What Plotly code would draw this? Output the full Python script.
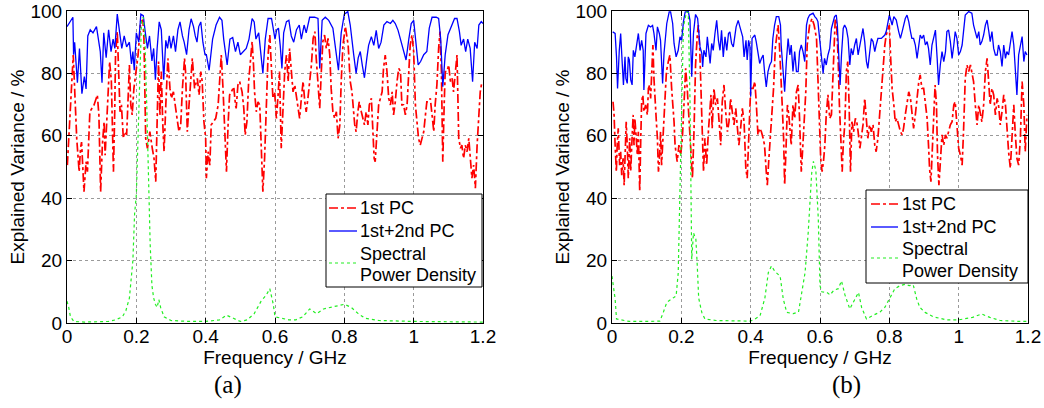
import plotly.graph_objects as go

# ---------------- Panel (a) ----------------
f_a_pc1 = [0.001,0.018,0.028,0.035,0.039,0.042,0.049,0.055,0.059,0.066,0.078,0.0875,0.092,0.097,0.102,0.107,0.110,0.113,0.118,0.123,0.128,0.134,0.1375,0.140,0.145,0.148,0.153,0.157,0.160,0.1625,0.166,0.172,0.177,0.180,0.184,0.188,0.193,0.198,0.205,0.2125,0.219,0.222,0.227,0.232,0.239,0.246,0.251,0.256,0.2606,0.264,0.268,0.272,0.276,0.280,0.285,0.291,0.297,0.301,0.307,0.311,0.316,0.323,0.328,0.333,0.339,0.342,0.347,0.352,0.3615,0.368,0.376,0.381,0.386,0.390,0.395,0.400,
           0.402,0.407,0.412,0.416,0.421,0.429,0.436,0.440,0.445,0.450,0.455,0.460,0.465,0.469,0.474,0.481,0.486,0.488,0.493,0.498,0.505,0.510,0.514,0.519,0.524,0.529,0.534,0.538,0.541,0.546,0.551,0.556,0.561,0.565,0.570,0.575,0.580,0.585,0.590,0.594,0.599,0.604,0.609,0.613,0.618,0.623,0.628,0.633,0.638,0.642,0.647,0.652,0.657,0.662,0.666,0.671,0.676,0.681,0.686,0.690,0.695,0.700,0.705,0.710,0.715,0.719,0.724,0.729,0.734,0.738,0.743,0.748,0.753,0.758,0.762,0.767,0.772,0.777,0.782,0.787,0.791,0.796,
           0.803,0.811,0.817,0.822,0.830,0.834,0.839,0.843,0.849,0.853,0.858,0.863,0.868,0.872,0.878,0.882,0.886,0.889,0.894,0.899,0.904,0.909,0.913,0.918,0.923,0.928,0.933,0.938,0.942,0.947,0.952,0.957,0.962,0.966,0.971,0.976,0.981,0.986,0.990,0.995,1.000,1.005,1.010,1.014,1.019,1.024,1.029,1.034,1.038,1.043,1.048,1.053,1.058,1.062,1.067,1.072,1.076,1.080,1.084,1.088,1.091,1.096,1.101,1.106,1.111,1.115,1.120,1.125,1.130,1.135,1.139,1.144,1.149,1.154,1.159,1.163,1.168,1.173,1.178,1.183,1.188,1.192,1.197]
pc1_a = [50.6,85.9,59.2,48.5,56,58,42.1,51.7,48.5,67.7,69.9,73.1,66.7,42.1,57,64.5,53.8,61.3,75.2,83.8,77.4,48.5,66.7,85.9,93.4,80.6,67.7,69.9,64.5,59.2,61.3,60.3,74.1,82.7,69.9,66.7,75.2,80.6,85.9,96.6,97.1,91.2,59.2,56,61.3,56,52.8,45.3,69.9,83.8,66.7,80.6,64.5,54.9,69.9,84.8,75.2,72,74.1,69.9,66.7,61.3,63.5,75.2,84.8,80.6,61.3,69.9,84.8,75.2,78.4,73.1,80.6,77.4,64.5,59.2,
         46.4,54.9,50.6,63.5,64.5,65.6,69.9,78.4,85.9,75.2,61.3,48.5,64.5,73.1,74.1,75.7,69.9,68.8,76.3,77.4,74.1,68.8,60.3,64.5,77.4,84.8,90.2,82.7,74.1,67.7,70.9,69.9,57,42.1,52.8,66.7,85.9,92.3,80.6,72,74.1,65.6,73.1,80.6,56,69.9,80.6,85.9,77.4,88,80.6,74.1,76.3,72,69.9,65.6,72,77.4,70.9,67.7,72,77.4,82.7,91.2,93.4,84.8,77.4,68.8,81.6,90.2,92.3,88,91.2,85.9,75.2,67.7,65.6,67.7,59.2,63.5,77.4,89.1,
         95,89.1,77.4,74.1,63.5,61.3,67.7,70.9,67.7,65.6,63.5,67.7,63.5,69.9,72,62.4,52.8,51.7,59.2,69.9,72,74.1,81.6,85.9,80.6,72,69.9,74.1,66.7,70.9,77.4,81.6,80.6,69.9,69.9,66.7,69.9,80.6,89.1,92.3,87,69.9,63.5,59.2,57,59.2,61.3,66.7,70.9,70.9,72,66.7,61.3,69.9,76.3,88,93.4,80.6,51.7,69.9,80.6,80.6,82.7,77.4,78.4,74.1,81.6,85.9,59.2,56,57,52.8,57,54.9,59.2,52.8,46.4,50.6,43.2,57,66.7,74.1,77.4]

f_a_pc12 = [0,0.01,0.017,0.019,0.022,0.03,0.036,0.043,0.05,0.055,0.06,0.067,0.075,0.085,0.092,0.096,0.101,0.106,0.113,0.12,0.127,0.133,0.138,0.145,0.152,0.158,0.165,0.172,0.18,0.186,0.19,0.194,0.2,0.207,0.213,0.22,0.226,0.232,0.238,0.245,0.25,0.255,0.26,0.266,0.272,0.276,0.279,0.285,0.29,0.295,0.3,0.307,0.313,0.32,0.326,0.333,0.338,0.345,0.352,0.358,0.365,0.37,0.375,0.38,0.386,0.392,0.398,0.402,0.41,0.42,0.43,0.44,0.447,0.452,0.462,0.47,0.478,0.486,0.493,0.5,0.508,0.517,0.525,0.534,0.54,0.545,0.553,0.56,0.565,0.572,0.58,0.59,0.6,0.605,0.61,0.615,0.62,0.625,0.633,0.64,0.647,0.654,0.662,0.67,0.676,0.684,0.69,0.7,0.714,0.724,0.729,0.736,0.745,0.755,0.767,0.777,0.783,0.791,0.8,0.81,0.817,0.827,0.834,0.84,0.846,0.852,0.858,0.865,0.87,0.878,0.885,0.892,0.899,0.906,0.914,0.923,0.933,0.94,0.947,0.955,0.962,0.971,0.978,0.986,0.993,1.0,1.006,1.013,1.02,1.029,1.038,1.045,1.053,1.065,1.072,1.078,1.084,1.091,1.099,1.109,1.118,1.125,1.132,1.137,1.144,1.15,1.156,1.163,1.17,1.176,1.183,1.188,1.195,1.2]
pc12_a = [95,97,98,86,90,77,88,73.5,79,75,92,94,93,95,90,87,77,93,85,94,87,91,88,99,93,88,92,88.5,90,83,87,81,93,90,99,98.5,93,88,92,84,88,78,88,96.5,94,86,78,90.6,88,92,88,92,87,94,96.5,92,90,86,94,97.5,95,92,90,95,96.5,90,86,86,81,91,95.5,98,97,91,82.7,91,91.5,87,90,86,87,88,91,97.6,96.5,91,93,86,80,91,97.6,97.6,91,94,94.5,89,81.6,93,96.6,97,92,90,94,95.5,91,95.5,93,98,98,97.6,81.6,97,98,97,94.5,86,81,93,99,99.8,95.5,86,80,85,87,82.5,78.6,85,89,91.8,89,93.8,88,90,95.5,96.6,96,97,96,93.8,91,88,84.3,91,96,97,91,82.7,83.8,86,87,94.5,98,98,97.6,91,75.7,86,92.4,95.5,97.6,97.6,93.4,89,91,87,91,88,77.3,90,88,95.5,96.6,96]

f_a_psd = [0,0.005,0.01,0.02,0.05,0.1,0.12,0.14,0.16,0.17,0.18,0.19,0.195,0.2,0.205,0.21,0.215,0.22,0.225,0.23,0.235,0.24,0.245,0.25,0.255,0.26,0.265,0.27,0.28,0.3,0.35,0.4,0.44,0.46,0.48,0.5,0.52,0.54,0.56,0.575,0.585,0.595,0.6,0.62,0.64,0.66,0.68,0.7,0.72,0.74,0.76,0.78,0.8,0.82,0.84,0.86,0.9,1.0,1.2]
psd_a = [7,5,2,0.5,0.3,0.3,0.5,1,2,4,8,20,35,41,60,85,97,98,90,70,45,25,12,8,6,5,7.5,5,2,0.8,0.5,0.5,1,2.5,1.5,0.5,1,3,7,9,11,6,2,1.5,1,1,2,4.5,3,4.5,5,5.5,6,5,3,1.5,0.8,0.5,0.3]

# ---------------- Panel (b) ----------------
f_b_pc1 = [0.003,0.006,0.009,0.0125,0.015,0.018,0.022,0.025,0.028,0.032,0.035,0.0375,0.041,0.044,0.047,0.051,0.054,0.057,0.061,0.0635,0.066,0.070,0.073,0.076,0.080,0.083,0.0855,0.089,0.092,0.097,0.102,0.105,0.109,0.1115,0.114,0.118,0.121,0.124,0.128,0.131,0.134,0.1375,0.140,0.143,0.147,0.152,0.157,0.1625,0.167,0.172,0.176,0.179,0.182,0.188,0.193,0.198,0.203,0.208,0.2125,0.217,0.222,0.227,0.232,0.2365,0.241,0.246,0.249,0.253,0.257,0.2605,0.264,0.268,0.273,0.278,0.282,0.2855,0.289,0.294,0.299,0.304,0.309,0.3135,0.318,0.323,0.328,0.333,0.3375,0.342,0.347,0.352,0.357,0.3615,0.366,0.371,0.376,0.381,0.386,0.390,0.395,0.400,
           0.407,0.412,0.416,0.421,0.426,0.431,0.436,0.440,0.445,0.448,0.452,0.457,0.462,0.466,0.471,0.476,0.479,0.483,0.486,0.488,0.491,0.495,0.498,0.502,0.506,0.510,0.513,0.517,0.522,0.527,0.532,0.537,0.541,0.546,0.549,0.554,0.559,0.563,0.570,0.577,0.583,0.590,0.594,0.598,0.602,0.606,0.610,0.614,0.618,0.623,0.628,0.633,0.636,0.640,0.644,0.648,0.652,0.656,0.660,0.664,0.667,0.672,0.676,0.680,0.684,0.688,0.692,0.697,0.702,0.706,0.710,0.715,0.719,0.724,0.729,0.734,0.738,0.743,0.748,0.753,0.758,0.762,0.767,0.772,0.777,0.782,0.787,0.791,0.796,0.800,
           0.803,0.808,0.813,0.817,0.822,0.827,0.832,0.837,0.841,0.846,0.851,0.856,0.861,0.865,0.870,0.875,0.880,0.885,0.889,0.894,0.899,0.904,0.909,0.913,0.916,0.920,0.924,0.928,0.932,0.936,0.939,0.943,0.947,0.952,0.957,0.962,0.966,0.971,0.976,0.981,0.986,0.990,0.995,1.000,1.005,1.010,1.014,1.019,1.024,1.029,1.034,1.038,1.043,1.048,1.053,1.058,1.062,1.067,1.072,1.077,1.082,1.087,1.091,1.096,1.101,1.106,1.111,1.115,1.120,1.125,1.130,1.135,1.139,1.144,1.149,1.154,1.159,1.163,1.168,1.173,1.178,1.183,1.188,1.192,1.197]
pc1_b = [70.9,66.7,57,48.5,57,62.4,50.6,54.9,47.4,52.8,44.2,57,64.5,57,46.4,59.2,48.5,57,66.7,57,65.6,59.2,53.8,61.3,42.1,59.2,70.9,73.1,67.7,69.9,66.7,75.2,76.3,72,80.6,89.1,78.4,69.9,64.5,59.2,48.5,53.8,61.3,50.6,59.2,69.9,80.6,83.8,85.9,75.2,69.9,64.5,57,51.7,57,53.8,59.2,72,81.6,75.2,64.5,53.8,46.4,61.3,82.7,92.3,95.5,88,75.2,59.2,48.5,59.2,50.6,61.3,69.9,73.1,62.4,75.2,69.9,72,64.5,57,70.9,76.3,67.7,61.3,64.5,72,67.7,63.5,68.8,62.4,57,62.4,68.8,64.5,49.6,46.4,63.5,75.2,
         75.2,77.4,70.9,60.3,62.4,61.3,59.2,57,48.5,44.2,51.7,59.2,66.7,75.2,88,93.4,95.5,89.1,79.5,76.3,69.9,59.2,44.2,56,69.9,66.7,61.3,57,69.9,65.6,74.1,76.3,65.6,48.5,53.8,62.4,74.1,89.1,95.5,97.6,95.5,91.2,80.6,65.6,52.8,48.5,51.7,57,66.7,73.1,65.6,66.7,75.2,85.9,97.6,95.5,85.9,69.9,56,48.5,57,64.5,80.6,83.8,69.9,48.5,64.5,61.3,65.6,64.5,61.3,56,59.2,63.5,72,63.5,59.2,63.5,61.3,63.5,57,54.9,59.2,66.7,75.2,82.7,89.1,92.3,94.4,95.5,
         87,75.2,69.9,64.5,65.6,63.5,61.3,60.3,62.4,66.7,70.9,74.1,72,67.7,62.4,66.7,73.1,77.4,79.5,75.2,75.2,70.9,65.6,57,49.6,45.3,57,69.9,76.3,69.9,53.8,44.2,52.8,60.3,57,60.3,59.2,61.3,63.5,64.5,69.9,70.9,63.5,56,53.8,50.6,61.3,78.4,82.7,80.6,82.7,80.6,77.4,69.9,63.5,69.9,67.7,64.5,69.9,80.6,84.8,75.2,69.9,75.2,73.1,66.7,72,69.9,63.5,67.7,73.1,69.9,61.3,54.9,49.6,59.2,69.9,61.3,52.8,50.6,59.2,77.4,69.9,54.9,66.7]

f_b_pc12 = [0.002,0.009,0.013,0.016,0.021,0.025,0.029,0.033,0.0375,0.040,0.044,0.047,0.050,0.054,0.058,0.0615,0.066,0.071,0.076,0.081,0.0855,0.090,0.092,0.098,0.105,0.1115,0.117,0.121,0.127,0.131,0.1365,0.140,0.146,0.150,0.158,0.165,0.169,0.175,0.179,0.185,0.191,0.196,0.201,0.206,0.211,0.220,0.225,0.230,0.235,0.241,0.247,0.254,0.259,0.2615,0.265,0.271,0.275,0.279,0.283,0.2875,0.292,0.297,0.302,0.307,0.3115,0.316,0.321,0.326,0.331,0.336,0.340,0.345,0.350,0.358,0.364,0.369,0.377,0.381,0.3865,0.390,0.394,0.398,0.400,
            0.404,0.412,0.416,0.421,0.426,0.431,0.436,0.440,0.445,0.450,0.455,0.460,0.464,0.469,0.474,0.481,0.486,0.488,0.493,0.498,0.503,0.508,0.513,0.517,0.522,0.527,0.532,0.537,0.541,0.546,0.551,0.556,0.561,0.565,0.570,0.580,0.585,0.590,0.594,0.599,0.604,0.609,0.613,0.618,0.623,0.628,0.633,0.638,0.642,0.647,0.650,0.654,0.658,0.662,0.667,0.671,0.676,0.681,0.686,0.690,0.695,0.700,0.705,0.710,0.715,0.719,0.724,0.729,0.734,0.738,0.743,0.748,0.753,0.758,0.762,0.767,0.777,0.787,0.791,0.796,0.800,
            0.803,0.808,0.813,0.820,0.827,0.832,0.837,0.841,0.846,0.851,0.856,0.861,0.865,0.870,0.875,0.880,0.885,0.889,0.894,0.899,0.904,0.909,0.913,0.918,0.923,0.928,0.933,0.938,0.942,0.947,0.952,0.957,0.962,0.966,0.971,0.976,0.981,0.986,0.990,0.995,1.000,1.005,1.010,1.014,1.019,1.029,1.038,1.043,1.048,1.053,1.058,1.062,1.067,1.072,1.077,1.082,1.087,1.091,1.096,1.101,1.106,1.111,1.115,1.120,1.125,1.130,1.135,1.139,1.144,1.149,1.154,1.159,1.163,1.168,1.173,1.178,1.183,1.188,1.192,1.197]
pc12_b = [93.3,92.8,85.3,75.2,87.4,92.8,84.3,76.3,85.3,78.4,76.8,85.3,84.3,77.9,76.3,87.4,85.3,88.5,92.8,87.4,90.6,87.4,74.7,92.8,95.4,94.9,95.4,92.8,87.4,94.9,92.8,90.6,76.8,86.4,96,99.7,99.7,96,89.6,85.3,87.4,91.7,90.6,96.5,99.7,99.9,97,78.9,92.8,98.9,97.6,88.5,86.4,82.1,87.4,85.3,91.7,87.4,83.2,89.6,87.4,92.8,97,90.6,87.4,93.8,85.3,91.7,87.4,92.8,93.3,89.6,88.5,94.9,97,94.9,91.7,85.3,90.6,84.3,90.6,88.5,72.6,
          91.2,92.3,90.2,85.9,83.2,84.8,85.9,80.6,75.7,80.6,82.7,83.8,91.2,95.5,98.2,98.2,95.5,89.1,80.6,74.1,83.8,91.2,85.9,89.1,80.6,87,80.6,80.6,87,89.1,87,83.8,95.5,97.6,98.7,99.3,98.2,97.6,96.6,91.2,84.8,80,84.8,82.7,85.9,88,94.4,96.6,98.2,98.7,95.5,85.9,76.3,85.9,94.4,95.5,94.4,91.2,82.7,88,85.9,89.1,91.2,85.9,89.1,91.2,94.4,90.2,83.8,81.6,87,91.2,90.2,87,89.1,91.2,91.2,92.3,93.4,96.6,98.7,
          97.6,95.5,98.2,97.1,93.4,91.2,93.4,95.5,97.6,98.7,96.6,93.4,91.2,91.2,89.1,84.8,89.1,92.3,91.2,92.3,89.1,90.2,88,82.7,89.1,91.2,93.9,84.8,76.3,82.7,87,83.8,87,93.4,93.9,90.2,84.8,89.1,93.4,91.2,85.9,87,89.1,93.4,98.7,99.8,99.3,95.5,93.4,91.2,93.4,89.1,90.2,92.3,95.5,97.1,93.4,90.2,93.4,88,85.9,85.9,89.1,87,82.2,89.1,84.8,87,85.9,90.2,93.4,89.1,82.7,73.1,85.9,89.1,91.8,83.8,87,85.9]

f_b_psd = [0,0.009,0.013,0.05,0.1,0.138,0.148,0.158,0.172,0.185,0.191,0.196,0.201,0.206,0.215,0.22,0.225,0.228,0.23,0.235,0.242,0.246,0.25,0.259,0.268,0.3,0.35,0.398,0.408,0.427,0.441,0.451,0.46,0.47,0.485,0.494,0.504,0.523,0.538,0.547,0.557,0.566,0.576,0.581,0.588,0.595,0.6,0.605,0.62,0.629,0.64,0.653,0.662,0.672,0.686,0.701,0.711,0.72,0.734,0.754,0.773,0.787,0.802,0.816,0.831,0.845,0.857,0.869,0.879,0.888,0.903,0.927,0.965,1.0,1.04,1.066,1.09,1.12,1.177,1.2]
psd_b = [15,7.7,1.3,0.5,0.5,0.6,3.4,6.6,7.7,8.7,16,39.6,71.5,95,99.7,99.5,71.5,39.6,20.4,28.9,26.8,18.3,8,3.4,1.3,0.8,0.8,0.6,1,2.3,8,16.2,18.3,16.5,15,7.7,3.4,3,3.5,9.8,16.2,29,48,51.8,49,33.6,12,10,9.8,9,10.5,11,13.5,9,4.5,7.7,9.8,5,1.3,2.5,3.5,5,8,11,12,12.4,12,12.2,7.7,5,3.4,2,1,1,1.8,2.9,1.8,0.8,0.5,0.5]

x_ticks = [0, 0.2, 0.4, 0.6, 0.8, 1.0, 1.2]
x_tick_text = ["0", "0.2", "0.4", "0.6", "0.8", "1", "1.2"]
y_ticks = [0, 20, 40, 60, 80, 100]
series_names = ["1st PC", "1st+2nd PC", "Spectral<br>Power Density"]
captions = ["(a)", "(b)"]

RED = "#ff0000"
BLUE = "#0000ff"
GREEN = "#22ee22"
FONT = "Liberation Sans, Arial, Helvetica, sans-serif"
SERIF = "Liberation Serif, DejaVu Serif, serif"
STYLES = [dict(color=RED, width=1.7, dash="dashdot"),
          dict(color=BLUE, width=1.3),
          dict(color=GREEN, width=1.2, dash="dot")]

W, H = 1044, 408
ml, mr, mt, mb = 67, 16, 11, 85
pw = W - ml - mr
ph = H - mt - mb


def px(x):  # page pixel -> paper x
    return (x - ml) / pw


def py(y):  # page pixel -> paper y
    return (H - mb - y) / ph


fig = go.Figure()

panels = [
    ("x", "y", [(f_a_pc1, pc1_a), (f_a_pc12, pc12_a), (f_a_psd, psd_a)]),
    ("x2", "y2", [(f_b_pc1, pc1_b), (f_b_pc12, pc12_b), (f_b_psd, psd_b)]),
]
for xa, ya, series in panels:
    for (fx, vals), name, st in zip(series, series_names, STYLES):
        fig.add_trace(go.Scatter(x=fx, y=vals, mode="lines", name=name.replace("<br>", " "),
                                 xaxis=xa, yaxis=ya, line=st, showlegend=False))

axis_common = dict(
    showline=True, linecolor="black", linewidth=1, mirror="ticks",
    ticks="inside", ticklen=5, tickcolor="black",
    showgrid=True, gridcolor="#9a9a9a", griddash="dot", gridwidth=1,
    zeroline=False, automargin=False,
    tickfont=dict(family=FONT, size=19, color="black"),
)
title_font = dict(family=FONT, size=19, color="black")

shapes = []
annotations = []
# legend boxes (page pixels): left, top, right, bottom, sample x0, sample x1, text x, row centres
legend_boxes = [
    dict(box=(326, 194, 482, 287), sx=(329, 357), tx=358, rows=(208, 231, 263), lines=(254, 275)),
    dict(box=(866, 190, 1028, 283), sx=(871, 898), tx=900, rows=(204, 227, 258), lines=(249, 271)),
]
for lb in legend_boxes:
    x0, y0, x1, y1 = lb["box"]
    shapes.append(dict(type="rect", xref="paper", yref="paper", x0=px(x0), x1=px(x1), y0=py(y1), y1=py(y0),
                       line=dict(color="black", width=1), fillcolor="white", layer="above"))
    for row, st in zip(lb["rows"], STYLES):
        shapes.append(dict(type="line", xref="paper", yref="paper", x0=px(lb["sx"][0]), x1=px(lb["sx"][1]),
                           y0=py(row), y1=py(row), line=st, layer="above"))
    texts = [series_names[0], series_names[1]] + series_names[2].split("<br>")
    ys = [lb["rows"][0], lb["rows"][1], lb["lines"][0], lb["lines"][1]]
    for t, yy in zip(texts, ys):
        annotations.append(dict(text=t, x=px(lb["tx"]), y=py(yy), xref="paper", yref="paper",
                                xanchor="left", yanchor="middle", showarrow=False,
                                font=dict(family=FONT, size=18, color="black")))

for cap, cx in zip(captions, (228, 846)):
    annotations.append(dict(text=cap, x=px(cx), y=py(385), xref="paper", yref="paper",
                            xanchor="center", yanchor="middle", showarrow=False,
                            font=dict(family=SERIF, size=25, color="black")))

fig.update_layout(
    width=W, height=H,
    margin=dict(l=ml, r=mr, t=mt, b=mb),
    paper_bgcolor="white", plot_bgcolor="white",
    showlegend=False,
    xaxis=dict(domain=[0, px(483)], range=[0, 1.2], tickvals=x_ticks, ticktext=x_tick_text, ticklabelstandoff=-4,
               title=dict(text="Frequency / GHz", font=title_font, standoff=0), anchor="y", **axis_common),
    yaxis=dict(domain=[0, 1], range=[0, 100], tickvals=y_ticks,
               title=dict(text="Explained Variance / %", font=title_font, standoff=0), anchor="x", **axis_common),
    xaxis2=dict(domain=[px(612), 1], range=[0, 1.2], tickvals=x_ticks, ticktext=x_tick_text, ticklabelstandoff=-4,
                title=dict(text="Frequency / GHz", font=title_font, standoff=0), anchor="y2", **axis_common),
    yaxis2=dict(domain=[0, 1], range=[0, 100], tickvals=y_ticks,
                title=dict(text="Explained Variance / %", font=title_font, standoff=0), anchor="x2", **axis_common),
    shapes=shapes,
    annotations=annotations,
)

fig.write_html("out.html", config={"displayModeBar": False},
               post_script="document.body.style.margin='0px';document.body.style.overflow='hidden';")
